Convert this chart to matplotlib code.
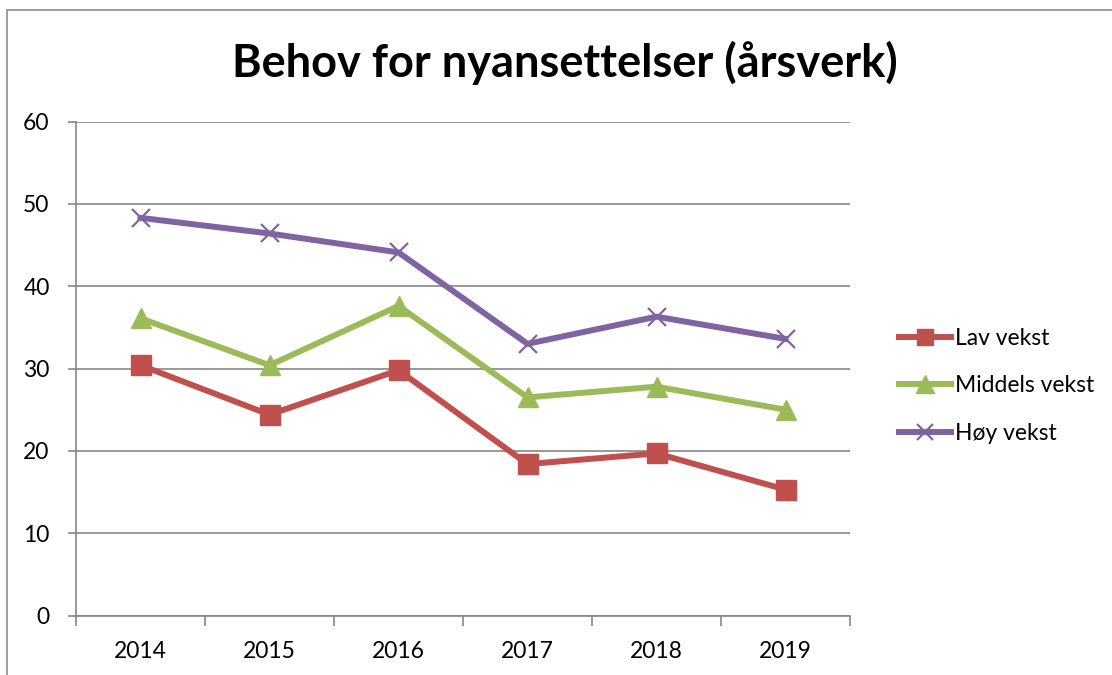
import numpy as np
import matplotlib.pyplot as plt
from matplotlib.patches import Rectangle

# Values
years = ['2014', '2015', '2016', '2017', '2018', '2019']
lav = [30.4, 24.4, 29.8, 18.4, 19.7, 15.3]
middels = [36.1, 30.4, 37.6, 26.5, 27.8, 25.0]
hoy = [48.3, 46.4, 44.1, 33.0, 36.3, 33.6]
series_names = ['Lav vekst', 'Middels vekst', 'Høy vekst']

plt.rcParams['font.family'] = ['Lato', 'DejaVu Sans']

fig = plt.figure(figsize=(11.12, 6.75), dpi=100)
ax = fig.add_axes([76 / 1112, 1 - 615.6 / 675, (850 - 76) / 1112, (615.6 - 121.5) / 675])

# outer chart frame (cropped on right/bottom)
fig.patches.append(Rectangle((7 / 1112, -0.1), 1.2, 1 - 10 / 675 + 0.1,
                             transform=fig.transFigure, fill=False,
                             edgecolor='#8c8c8c', linewidth=1.2))

x = np.arange(len(years))
ax.plot(x, lav, color='#C0504D', linewidth=4.3, marker='s', markersize=14,
        label=series_names[0])
ax.plot(x, middels, color='#9BBB59', linewidth=4.3, marker='^', markersize=15,
        label=series_names[1])
ax.plot(x, hoy, color='#8064A2', linewidth=4.3, marker='x', markersize=13,
        markeredgewidth=1.6, label=series_names[2])

ax.set_xlim(-0.5, len(years) - 0.5)
ax.set_ylim(0, 60)
ax.set_yticks(range(0, 61, 10))
ax.set_xticks(x)
ax.set_xticklabels(years)
ax.set_xticks(np.arange(-0.5, len(years), 1), minor=True)

ax.yaxis.grid(True, color='#868686', linewidth=1.2)
ax.set_axisbelow(True)
for s in ['top', 'right']:
    ax.spines[s].set_visible(False)
for s in ['left', 'bottom']:
    ax.spines[s].set_color('#868686')
    ax.spines[s].set_linewidth(1.2)

ax.tick_params(axis='y', length=6, width=1.2, color='#868686', pad=13,
               labelsize=16.5)
ax.tick_params(axis='x', which='major', length=0, pad=18, labelsize=16.5)
ax.tick_params(axis='x', which='minor', length=7, width=1.2, color='#868686')

fig.text(565 / 1112, 1 - 63 / 675, 'Behov for nyansettelser (årsverk)',
         ha='center', va='center', fontsize=32.5, fontweight='bold')

ax.legend(loc='center left', bbox_to_anchor=(878 / 1112, 1 - 386 / 675),
          bbox_transform=fig.transFigure, frameon=False, fontsize=16.5,
          handlelength=2.3, handletextpad=0.15, labelspacing=1.15,
          markerscale=0.85)

fig.savefig('out.png', dpi=100)
